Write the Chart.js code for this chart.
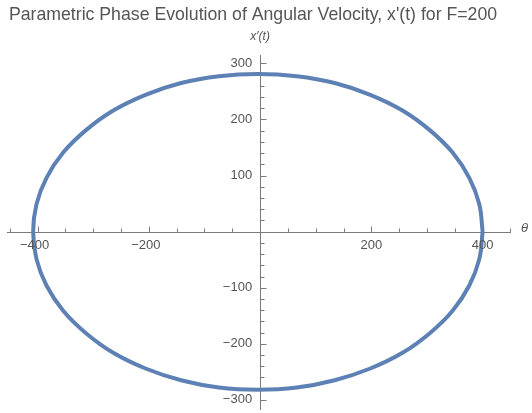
<!DOCTYPE html>
<html>
<head>
<meta charset="utf-8">
<script src="https://cdn.jsdelivr.net/npm/chart.js@4/dist/chart.umd.min.js"></script>
<style>
html,body{margin:0;padding:0;background:#fff;}
canvas{display:block;}
</style>
</head>
<body>
<canvas id="c" width="532" height="413"></canvas>
<script>
// ---- data (theta, x'(t)) ----
const thetaValues = [400, 394, 376, 346, 305, 256, 198, 134, 66, -4, -74, -142, -206, -264, -313, -354, -384, -402, -408,
  -402, -384, -354, -313, -264, -206, -142, -74, -4, 66, 134, 198, 256, 305, 346, 376, 394, 400];
const velocityValues = [0, 49, 96, 141, 181, 216, 244, 265, 277, 281, 277, 265, 244, 216, 181, 141, 96, 49, 0,
  -49, -96, -141, -181, -216, -244, -265, -278, -282, -278, -265, -244, -216, -181, -141, -96, -49, 0];

const xMajorTicks = [-400, -200, 200, 400];
const xMinorTicks = [-450, -350, -300, -250, -150, -100, -50, 50, 100, 150, 250, 300, 350, 450];
const yMajorTicks = [-300, -200, -100, 100, 200, 300];
const yMinorTicks = [-280, -260, -240, -220, -180, -160, -140, -120, -80, -60, -40, -20,
  20, 40, 60, 80, 120, 140, 160, 180, 220, 240, 260, 280];

const titleText = "Parametric Phase Evolution of Angular Velocity, x'(t) for F=200";
const xAxisLabel = "\u03B8";
const yAxisLabel = "x\u2032(t)";

const points = thetaValues.map((v, i) => ({x: v, y: velocityValues[i]}));
const fmt = v => (v < 0 ? "\u2212" + Math.abs(v) : String(v));

const axesPlugin = {
  id: 'mmaAxes',
  beforeDatasetsDraw(chart) {
    const ctx = chart.ctx, xs = chart.scales.x, ys = chart.scales.y;
    const x0 = Math.round(xs.getPixelForValue(0)) + 0.5;
    const y0 = Math.round(ys.getPixelForValue(0)) + 0.5;
    ctx.save();
    ctx.strokeStyle = '#7a7a7a';
    ctx.lineWidth = 1;
    ctx.beginPath();
    ctx.moveTo(xs.left, y0); ctx.lineTo(xs.right, y0);
    ctx.moveTo(x0, ys.top); ctx.lineTo(x0, ys.bottom);
    const xt = (v, len) => { const p = Math.round(xs.getPixelForValue(v)) + 0.5; ctx.moveTo(p, y0); ctx.lineTo(p, y0 - len); };
    const yt = (v, len) => { const p = Math.round(ys.getPixelForValue(v)) + 0.5; ctx.moveTo(x0, p); ctx.lineTo(x0 + len, p); };
    xMajorTicks.forEach(v => xt(v, 6));
    xMinorTicks.forEach(v => xt(v, 4));
    yMajorTicks.forEach(v => yt(v, 6));
    yMinorTicks.forEach(v => yt(v, 4));
    ctx.stroke();
    ctx.restore();
  },
  afterDatasetsDraw(chart) {
    const ctx = chart.ctx, xs = chart.scales.x, ys = chart.scales.y;
    const x0 = xs.getPixelForValue(0), y0 = ys.getPixelForValue(0);
    ctx.save();
    ctx.fillStyle = '#555555';
    // title
    ctx.font = '17.7px "Liberation Sans", Arial, sans-serif';
    ctx.textAlign = 'center'; ctx.textBaseline = 'middle';
    ctx.fillText(titleText, 253, 15);
    // tick labels
    ctx.font = '13px "Liberation Sans", Arial, sans-serif';
    ctx.textAlign = 'center'; ctx.textBaseline = 'top';
    xMajorTicks.forEach(v => ctx.fillText(fmt(v), xs.getPixelForValue(v) - (v < 0 ? 3 : 0), y0 + 7));
    ctx.textAlign = 'right'; ctx.textBaseline = 'middle';
    yMajorTicks.forEach(v => ctx.fillText(fmt(v), x0 - 8, ys.getPixelForValue(v)));
    // axis labels
    ctx.font = 'italic 13px "Liberation Sans", Arial, sans-serif';
    ctx.textAlign = 'left';
    ctx.fillText(xAxisLabel, xs.right + 10, y0 - 3);
    ctx.font = 'italic 12px "Liberation Sans", Arial, sans-serif';
    ctx.textAlign = 'center';
    ctx.fillText(yAxisLabel, x0, 37);
    ctx.restore();
  }
};

new Chart(document.getElementById('c'), {
  type: 'scatter',
  data: {
    datasets: [{
      data: points,
      showLine: true,
      fill: false,
      borderColor: 'rgb(94,129,181)',
      borderWidth: 4,
      pointRadius: 0,
      tension: 0.4
    }]
  },
  options: {
    responsive: false,
    animation: false,
    devicePixelRatio: 1,
    layout: { padding: { left: 7, right: 21, top: 55, bottom: 3 } },
    plugins: {
      legend: { display: false },
      tooltip: { enabled: false },
      title: { display: false }
    },
    scales: {
      x: { type: 'linear', min: -455, max: 451, display: false },
      y: { type: 'linear', min: -318, max: 315, display: false }
    }
  },
  plugins: [axesPlugin]
});
</script>
</body>
</html>
